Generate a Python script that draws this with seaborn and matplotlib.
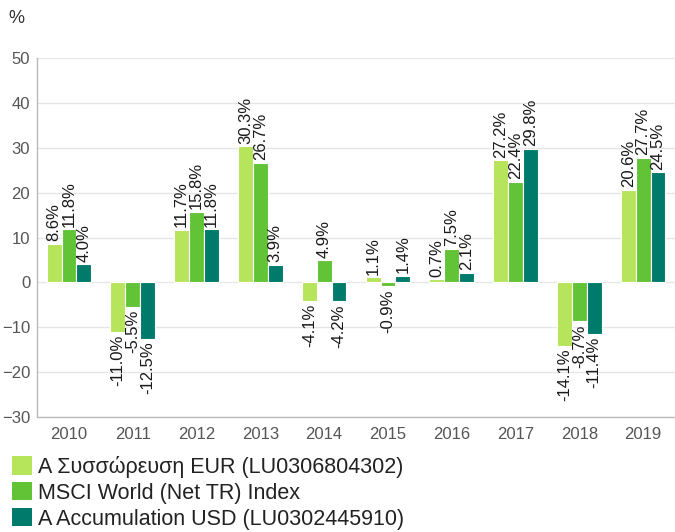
import pandas as pd
import matplotlib
matplotlib.use('Agg')
import matplotlib.pyplot as plt
import seaborn as sns
from matplotlib.patches import Patch

# Chart data
years = ['2010', '2011', '2012', '2013', '2014', '2015', '2016', '2017', '2018', '2019']
series_names = ['Α Συσσώρευση EUR (LU0306804302)',
                'MSCI World (Net TR) Index',
                'A Accumulation USD (LU0302445910)']
fund_eur = [8.6, -11.0, 11.7, 30.3, -4.1, 1.1, 0.7, 27.2, -14.1, 20.6]
msci_world = [11.8, -5.5, 15.8, 26.7, 4.9, -0.9, 7.5, 22.4, -8.7, 27.7]
fund_usd = [4.0, -12.5, 11.8, 3.9, -4.2, 1.4, 2.1, 29.8, -11.4, 24.5]
colors = ['#b6e45b', '#62c336', '#007a6a']

# Long form table for seaborn
df = pd.DataFrame({
    'year': years * 3,
    'series': [series_names[0]] * 10 + [series_names[1]] * 10 + [series_names[2]] * 10,
    'value': fund_eur + msci_world + fund_usd,
})

sns.set_style('white')
plt.rcParams['font.family'] = ['Liberation Sans', 'DejaVu Sans']

fig = plt.figure(figsize=(6.75, 5.32), dpi=100)
ax = fig.add_axes([0.055, 0.216, 0.945, 0.675])

sns.barplot(data=df, x='year', y='value', hue='series', hue_order=series_names,
            palette=colors, saturation=1, width=0.7, edgecolor='white',
            linewidth=0.8, legend=False, ax=ax)

# Value labels on each bar
for cont, vals in zip(ax.containers, [fund_eur, msci_world, fund_usd]):
    ax.bar_label(cont, labels=[f'{v:.1f}%' for v in vals], rotation=90,
                 padding=2, fontsize=12, color='#1a1a1a')

ax.set_ylim(-30, 50)
ax.set_yticks(range(-30, 51, 10))
ax.set_xlim(-0.5, 9.5)
ax.set_xlabel('')
ax.set_ylabel('')
ax.yaxis.grid(True, color='#e6e6e6', linewidth=1)
ax.set_axisbelow(True)
ax.tick_params(axis='both', length=0, labelsize=12, labelcolor='#555555')
ax.tick_params(axis='y', pad=5)
ax.tick_params(axis='x', pad=7)
for side in ['top', 'right']:
    ax.spines[side].set_visible(False)
for side in ['left', 'bottom']:
    ax.spines[side].set_color('#bbbbbb')
    ax.spines[side].set_linewidth(1)

fig.text(0.013, 0.982, '%', fontsize=13, color='#333333', va='top', ha='left')

# Legend below the chart
handles = [Patch(facecolor=c, edgecolor='none') for c in colors]
fig.legend(handles, series_names, loc='upper left', bbox_to_anchor=(0.018, 0.143),
           frameon=False, fontsize=15.5, handlelength=0.92, handleheight=0.92,
           handletextpad=0.3, labelspacing=0.2, borderpad=0, borderaxespad=0,
           labelcolor='#222222')

fig.savefig('out.png', dpi=100)
